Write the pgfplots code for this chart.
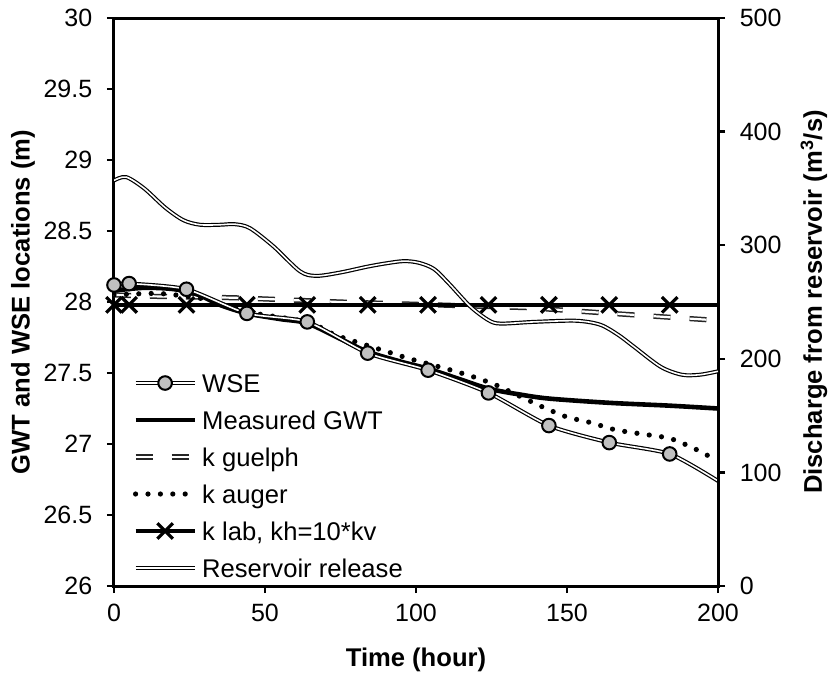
\documentclass[border=0pt]{standalone}
\usepackage{fontspec}
\setmainfont{Liberation Sans}
\usepackage{pgfplots}
\pgfplotsset{compat=1.18}
\definecolor{wsegray}{HTML}{C0C0C0}

\tikzset{
  dbl/.style={draw=black, double=white, double distance=0.8pt, line width=0.6pt},
  dbldash/.style={draw=black!85, double=white, double distance=1.1pt, line width=0.75pt, dash pattern=on 8.5pt off 9.5pt},
  auger/.style={black, line width=2.6pt, line cap=round, dash pattern=on 0pt off 6.2pt},
  gwt/.style={black, line width=2.3pt},
  klab/.style={black, line width=2pt, mark=x, mark size=5.5pt, mark options={solid, line width=1.6pt}},
}
\pgfplotsset{every axis/.append style={line width=1.5pt}}

\begin{document}
\begin{tikzpicture}
\pgfplotsset{
  common/.style={scale only axis, width=302pt, height=284pt, at={(0,0)}, anchor=south west,
    xmin=0, xmax=200, tick align=outside, major tick length=3.5pt,
    tick style={black, line width=1.2pt},
    axis line style={line width=1.5pt},
    /pgf/number format/assume math mode=true,
    tick label style={font=\fontsize{12.5pt}{15pt}\selectfont},
    label style={font=\bfseries\fontsize{12.8pt}{15pt}\selectfont},
  },
  legend image code/.code={\draw[mark repeat=2,mark phase=2,#1] plot coordinates {(0pt,0pt) (14.75pt,0pt) (29.5pt,0pt)};},
}
\begin{axis}[common,
  ymin=26, ymax=30,
  ytick={26,26.5,27,27.5,28,28.5,29,29.5,30},
  xtick={0,50,100,150,200},
  ytick pos=left, xtick pos=bottom,
  yticklabel style={xshift=-3.3pt},
  xticklabel style={yshift=-1.3pt},
  xlabel={Time (hour)},
  ylabel={GWT and WSE locations (m)},
  xlabel style={at={([yshift=-37pt]axis description cs:0.5,0)}, anchor=center},
  ylabel style={at={([xshift=-45.5pt]axis description cs:0,0.5)}, anchor=center},
  legend style={draw=none, fill=none, inner sep=0pt, outer sep=0pt, row sep=0pt,
    at={(axis description cs:0,0)}, anchor=south west, xshift=9.5pt, yshift=-0.25pt,
    font=\fontsize{12.8pt}{15pt}\selectfont,
    nodes={inner xsep=2.5pt, inner ysep=0pt, text height=13.75pt, text depth=4.75pt}},
  legend cell align=left,
]
% k guelph
\addplot[dbldash, forget plot] coordinates {(0,28.05)(13,28.04)(40,28.03)(75,28.0)(106,27.98)(137,27.96)(161,27.925)(200,27.87)};
% k auger
\addplot[auger, smooth, tension=0.4, forget plot] coordinates {(0,28.05)(15,28.06)(30,28.02)(44,27.93)(64,27.86)(73,27.77)(80,27.72)(89,27.66)(98,27.6)(110,27.53)(118,27.48)(126,27.42)(134,27.34)(142,27.26)(150,27.19)(158,27.15)(166,27.1)(175,27.07)(184,27.04)(192,26.97)(200,26.88)};
% measured GWT
\addplot[gwt, smooth, tension=0.5, forget plot] coordinates {(0,28.08)(10,28.1)(20,28.09)(28,28.05)(35,27.98)(44,27.92)(55,27.88)(64,27.85)(75,27.74)(84,27.65)(95,27.58)(104,27.53)(114,27.46)(124,27.39)(134,27.35)(144,27.32)(164,27.29)(184,27.27)(200,27.25)};
% k lab
\addplot[klab, mark indices={1,2,3,4,5,6,7,8,9,10,11}, forget plot] coordinates {(0,27.98)(5,27.98)(24,27.98)(44,27.98)(64,27.98)(84,27.98)(104,27.98)(124,27.98)(144,27.98)(164,27.98)(184,27.98)(200,27.98)};
% WSE line
\addplot[dbl, smooth, tension=0.4, forget plot] coordinates {(0,28.12)(5,28.13)(24,28.09)(44,27.92)(64,27.86)(84,27.64)(104,27.52)(124,27.36)(144,27.13)(164,27.01)(184,26.93)(200,26.74)};
% WSE markers
\addplot[only marks, mark=*, mark size=3.4pt, mark options={draw=black, fill=wsegray, line width=1pt}, forget plot] coordinates {(0,28.12)(5,28.13)(24,28.09)(44,27.92)(64,27.86)(84,27.64)(104,27.52)(124,27.36)(144,27.13)(164,27.01)(184,26.93)};
\addlegendimage{legend image code/.code={\draw[dbl] (0pt,0pt) -- (29.5pt,0pt); \draw[black, fill=wsegray, line width=1pt] (14.75pt,0pt) circle (3.4pt);}}
\addlegendimage{gwt}
\addlegendimage{dbldash}
\addlegendimage{auger}
\addlegendimage{klab}
\addlegendimage{dbl}
\legend{WSE, Measured GWT, k guelph, k auger, {k lab, kh=10*kv}, Reservoir release}
\end{axis}
\begin{axis}[common,
  ymin=0, ymax=500, ytick={0,100,200,300,400,500},
  axis y line*=right, axis x line=none,
  yticklabel style={xshift=3.3pt},
  ylabel={Discharge from reservoir (m\textsuperscript{3}/s)},
  ylabel style={at={([xshift=48pt]axis description cs:1,0.5)}, anchor=center},
]
\addplot[dbl, smooth, tension=0.5] coordinates {(0,357)(4,360)(10,350)(17,333)(23,322)(28.5,318)(35,318)(40,318.5)(45,315)(52.8,299)(61.6,277)(67,273)(75,276)(83.7,281)(90,284)(96,286)(101,284.5)(106,279)(111,266)(118,246)(124,234)(128,231)(139,232.5)(153,233.5)(161,230)(167,221)(172,211)(181,193)(188,186)(194,186)(200,189)};
\end{axis}
\pgfresetboundingbox
\path (-57pt,-45.5pt) rectangle (359.5pt,293pt);
\end{tikzpicture}
\end{document}
